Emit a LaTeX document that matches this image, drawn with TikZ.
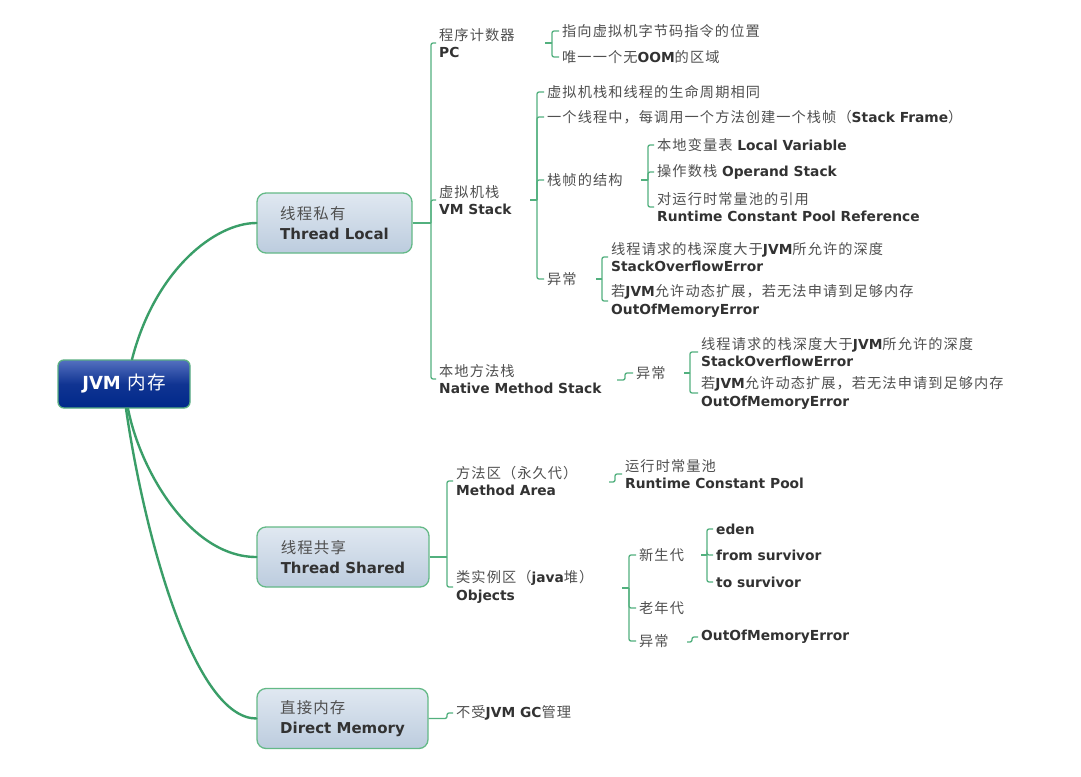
\documentclass[tikz,border=0pt]{standalone}
\usepackage{fontspec}
\setmainfont{DejaVu Sans}
\newfontfamily\zhfont{Noto Sans CJK SC}[LetterSpace=7.5, Scale=1.03]
\usetikzlibrary{calc}
\definecolor{linegreen}{RGB}{58,158,104}
\definecolor{brgreen}{RGB}{82,176,126}
\definecolor{boxborder}{RGB}{100,185,135}
\definecolor{boxtop}{RGB}{224,232,241}
\definecolor{boxbot}{RGB}{188,204,222}
\definecolor{rootborder}{RGB}{90,175,130}
\definecolor{roottop}{RGB}{84,112,192}
\definecolor{rootmid}{RGB}{16,52,146}
\definecolor{rootbot}{RGB}{0,40,138}
\definecolor{engray}{RGB}{50,50,50}
\definecolor{zhgray}{RGB}{80,80,80}
\newcommand\zh[1]{{\zhfont\mdseries\color{zhgray}#1}}
\begin{document}
\begin{tikzpicture}[x=1pt,y=-1pt,
  rootbox/.style={draw=rootborder, line width=1.3pt, rounded corners=6pt,
    top color=roottop, bottom color=rootbot, middle color=rootmid,
    minimum width=132pt, minimum height=48pt, inner sep=0pt,
    text=white, font=\fontsize{18}{22}\selectfont\bfseries},
  topbox/.style={draw=boxborder, line width=1.3pt, rounded corners=9pt,
    top color=boxtop, bottom color=boxbot, minimum height=60pt, inner sep=0pt,
    align=left, text=engray, font=\fontsize{15}{20}\selectfont\bfseries},
  leaf/.style={anchor=west, inner xsep=3pt, inner ysep=1pt, align=left,
    text=engray, font=\fontsize{13.8}{17.5}\selectfont\bfseries},
  thick/.style={draw=linegreen, line width=2.4pt, line cap=round},
  br/.style={draw=brgreen, line width=1.3pt, rounded corners=2pt},
]
\useasboundingbox (0,0) rectangle (1081,776);
\fill[white] (0,0) rectangle (1081,776);

% root and main boxes
\node[rootbox] (root) at (124,384) {JVM {\zhfont\mdseries 内存}};
\node[topbox, minimum width=155pt] (tl) at (334.5,223) {\zh{线程私有}\\Thread Local};
\node[topbox, minimum width=172pt] (ts) at (343,557) {\zh{线程共享}\\Thread Shared};
\node[topbox, minimum width=171pt] (dm) at (342.5,718.5) {\zh{直接内存}\\Direct Memory};

\draw[thick] ($(root.north)+(8,0)$) .. controls (155,270) and (215,223) .. (tl.west);
\draw[thick] ($(root.south)+(4,0)$) .. controls (140,470) and (190,557) .. (ts.west);
\draw[thick] ($(root.south)+(2,0)$) .. controls (145,540) and (195,718.5) .. (dm.west);

% Thread Local children
\node[leaf] (pc) at (436,43) {\zh{程序计数器}\\PC};
\node[leaf] (vm) at (436,200) {\zh{虚拟机栈}\\VM Stack};
\node[leaf] (nm) at (436,379) {\zh{本地方法栈}\\Native Method Stack};
\coordinate (tlB) at (431,223);
\draw[br] (tl.east) -- (tlB);
\foreach \c in {pc,vm,nm} \draw[br] (tlB) |- (\c.west);

% PC children
\node[leaf] (pc1) at (559,31) {\zh{指向虚拟机字节码指令的位置}};
\node[leaf] (pc2) at (559,57) {\zh{唯一一个无}OOM\zh{的区域}};
\coordinate (pcR) at (545,43);
\coordinate (pcB) at (552,43);
\draw[br] (pcR) -- (pcB);
\foreach \c in {pc1,pc2} \draw[br] (pcB) |- (\c.west);

% VM Stack children
\node[leaf] (vm1) at (544,92) {\zh{虚拟机栈和线程的生命周期相同}};
\node[leaf] (vm2) at (544,117) {\zh{一个线程中，每调用一个方法创建一个栈帧（}Stack Frame\zh{）}};
\node[leaf] (vm3) at (544,180) {\zh{栈帧的结构}};
\node[leaf] (vm4) at (544,279) {\zh{异常}};
\coordinate (vmR) at (530,200);
\coordinate (vmB) at (537,200);
\draw[br] (vmR) -- (vmB);
\foreach \c in {vm1,vm2,vm3,vm4} \draw[br] (vmB) |- (\c.west);

% frame structure
\node[leaf] (f1) at (654,145) {\zh{本地变量表} Local Variable};
\node[leaf] (f2) at (654,172) {\zh{操作数栈} Operand Stack};
\node[leaf] (f3) at (654,207) {\zh{对运行时常量池的引用}\\Runtime Constant Pool Reference};
\coordinate (fR) at (641,180);
\coordinate (fB) at (648,180);
\draw[br] (fR) -- (fB);
\foreach \c in {f1,f2,f3} \draw[br] (fB) |- (\c.west);

% VM exceptions
\node[leaf] (e1) at (608,257) {\zh{线程请求的栈深度大于}JVM\zh{所允许的深度}\\StackOverflowError};
\node[leaf] (e2) at (608,301) {\zh{若}JVM\zh{允许动态扩展，若无法申请到足够内存}\\OutOfMemoryError};
\coordinate (eR) at (596,279);
\coordinate (eB) at (602,279);
\draw[br] (eR) -- (eB);
\foreach \c in {e1,e2} \draw[br] (eB) |- (\c.west);

% Native method stack
\node[leaf] (ne) at (633,373) {\zh{异常}};
\coordinate (nmR) at (617,380);
\draw[br] (nmR) -- ++(8,0) |- (ne.west);
\node[leaf] (ne1) at (698,352) {\zh{线程请求的栈深度大于}JVM\zh{所允许的深度}\\StackOverflowError};
\node[leaf] (ne2) at (698,393) {\zh{若}JVM\zh{允许动态扩展，若无法申请到足够内存}\\OutOfMemoryError};
\coordinate (neR) at (684,373);
\coordinate (neB) at (690,373);
\draw[br] (neR) -- (neB);
\foreach \c in {ne1,ne2} \draw[br] (neB) |- (\c.west);

% Thread Shared children
\node[leaf] (ma) at (453,481) {\zh{方法区（永久代）}\\Method Area};
\node[leaf] (ob) at (453,587) {\zh{类实例区（}java\zh{堆）}\\Objects};
\coordinate (tsB) at (447,557);
\draw[br] (ts.east) -- (tsB);
\foreach \c in {ma,ob} \draw[br] (tsB) |- (\c.west);

\node[leaf] (rcp) at (622,474) {\zh{运行时常量池}\\Runtime Constant Pool};
\coordinate (maR) at (609,482);
\draw[br] (maR) -- ++(6,0) |- (rcp.west);

\node[leaf] (yg) at (636,555) {\zh{新生代}};
\node[leaf] (og) at (636,608) {\zh{老年代}};
\node[leaf] (oe) at (636,641) {\zh{异常}};
\coordinate (obR) at (622,588);
\coordinate (obB) at (629,588);
\draw[br] (obR) -- (obB);
\foreach \c in {yg,og,oe} \draw[br] (obB) |- (\c.west);

\node[leaf] (eden) at (713,529) {eden};
\node[leaf] (fsv) at (713,555) {from survivor};
\node[leaf] (tsv) at (713,582) {to survivor};
\coordinate (ygR) at (701,555);
\coordinate (ygB) at (707,555);
\draw[br] (ygR) -- (ygB);
\foreach \c in {eden,fsv,tsv} \draw[br] (ygB) |- (\c.west);

\node[leaf] (oom) at (698,637) {OutOfMemoryError};
\coordinate (oeR) at (687,642);
\draw[br] (oeR) -- ++(5,0) |- (oom.west);

% Direct Memory
\node[leaf] (gc) at (453,713) {\zh{不受}JVM GC\zh{管理}};
\draw[br] (dm.east) -- (447,718.5) |- (gc.west);
\end{tikzpicture}
\end{document}
